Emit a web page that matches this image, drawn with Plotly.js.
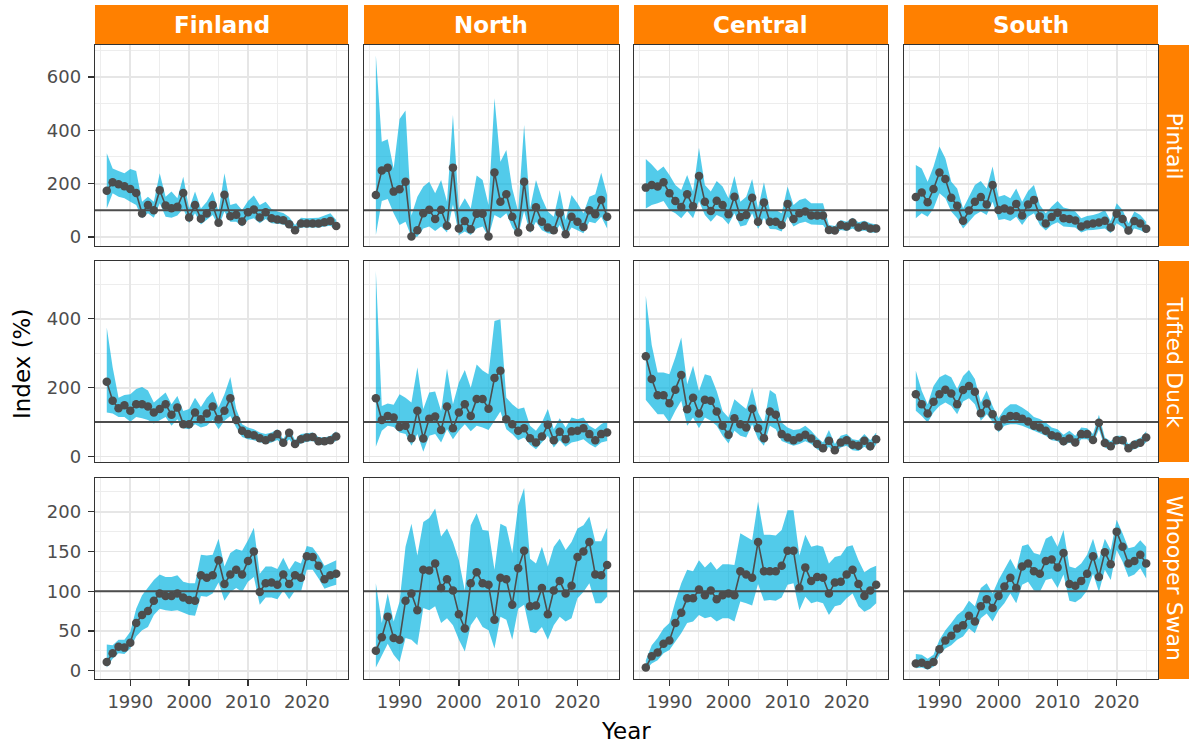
<!DOCTYPE html>
<html><head><meta charset="utf-8">
<script src="https://cdn.plot.ly/plotly-3.0.1.min.js"></script>
<style>html,body{margin:0;padding:0;background:#fff}#chart{width:1190px;height:744px}</style>
</head><body><div id="chart"></div>
<script>
const years = [1986,1987,1988,1989,1990,1991,1992,1993,1994,1995,1996,1997,1998,1999,2000,2001,2002,2003,2004,2005,2006,2007,2008,2009,2010,2011,2012,2013,2014,2015,2016,2017,2018,2019,2020,2021,2022,2023,2024,2025];
const regions = ['Finland','North','Central','South'];
const species = ['Pintail','Tufted Duck','Whooper Swan'];
const xTicks = [1990,2000,2010,2020];
const xMinor = [1985,1995,2005,2015,2025];
const yTicksPintail = [0,200,400,600];
const yMinorPintail = [100,300,500,700];
const yTicksTufted = [0,200,400];
const yMinorTufted = [100,300,500];
const yTicksSwan = [0,50,100,150,200];
const yMinorSwan = [25,75,125,175,225];
const baseline = 100;

// Pintail
const pintailFinland   = [173,205,198,190,180,165,88,120,100,175,118,108,113,165,73,120,68,88,120,53,158,78,83,58,93,103,73,93,70,65,63,48,25,50,50,50,50,55,60,41];
const pintailFinlandLo = [107,164,151,145,132,120,70,89,72,126,76,72,80,107,51,89,47,64,82,39,95,57,57,39,64,70,51,67,51,49,47,35,17,35,35,35,35,39,42,26];
const pintailFinlandHi = [314,257,247,239,255,247,132,151,132,239,151,170,145,226,107,170,107,132,170,95,239,120,126,101,135,155,120,132,105,95,90,75,45,72,70,70,72,80,89,64];
const pintailNorth   = [157,249,260,170,179,207,2,25,89,102,67,102,42,260,32,60,29,87,87,2,242,132,160,76,17,207,35,111,57,35,25,90,10,76,57,37,100,85,139,76];
const pintailNorthLo = [7,135,142,89,45,57,0,1,32,39,22,39,17,122,7,20,7,32,39,0,82,70,89,35,5,97,14,57,25,14,10,45,1,35,25,14,57,51,76,32];
const pintailNorthHi = [682,357,366,257,442,474,80,151,189,207,164,214,132,457,107,145,107,230,214,120,520,282,326,182,95,420,107,214,145,95,76,176,64,157,126,89,151,160,241,157];
const pintailCentral   = [185,195,189,205,164,135,112,160,115,229,132,97,136,120,85,151,75,82,147,57,129,57,57,45,124,67,89,95,80,80,80,26,24,45,39,54,35,42,32,32];
const pintailCentralLo = [107,120,126,135,101,89,70,97,70,135,82,57,82,72,47,89,39,45,89,30,72,30,29,20,76,39,51,57,47,47,45,14,11,26,22,32,20,24,17,16];
const pintailCentralHi = [292,272,247,264,232,195,176,232,170,335,195,170,210,189,145,229,132,151,217,107,205,101,101,89,189,120,139,145,126,126,126,45,41,64,57,72,55,61,51,47];
const pintailSouth   = [150,167,130,180,242,217,147,117,61,99,132,150,122,195,101,107,99,124,80,122,139,77,50,75,91,70,67,62,39,47,50,54,61,35,87,67,24,60,50,31];
const pintailSouthLo = [70,89,76,107,164,145,95,70,32,57,82,95,82,132,64,67,60,76,45,76,89,45,24,45,55,39,37,35,17,25,26,29,32,14,51,37,7,32,25,14];
const pintailSouthHi = [270,257,207,264,339,295,207,182,107,151,195,210,182,264,151,157,145,182,132,172,195,120,89,114,135,110,105,95,70,79,82,89,101,60,126,101,51,95,82,57];

// Tufted Duck
const tuftedFinland   = [217,162,140,149,133,152,152,145,128,138,152,121,142,94,94,128,108,125,145,108,133,169,106,75,65,62,53,47,55,65,40,69,36,50,55,57,44,44,47,58];
const tuftedFinlandLo = [128,125,115,115,101,115,111,106,96,106,115,89,108,82,79,94,84,89,106,79,104,118,84,57,50,47,41,36,41,48,31,50,26,38,43,45,34,34,38,45];
const tuftedFinlandHi = [375,259,171,179,181,196,202,192,157,171,186,152,176,132,138,171,144,171,189,142,181,231,138,94,84,79,70,65,70,79,50,82,47,65,68,70,57,55,60,73];
const tuftedNorth   = [169,106,118,113,86,89,53,133,52,110,116,77,145,82,128,152,118,167,167,139,228,249,108,94,75,82,53,41,58,92,47,72,50,73,75,82,65,47,65,70];
const tuftedNorthLo = [28,75,89,86,70,65,31,65,14,60,65,41,79,50,75,94,73,89,84,77,104,131,79,65,47,55,34,21,41,60,26,47,28,41,44,50,36,26,41,45];
const tuftedNorthHi = [539,147,154,150,181,171,157,259,138,186,189,132,256,152,215,251,200,267,250,239,394,399,171,152,138,142,89,75,99,138,79,111,84,113,108,113,89,79,94,104];
const tuftedCentral   = [291,225,178,178,155,194,237,137,171,125,165,162,131,89,63,111,94,84,139,82,53,131,121,65,55,47,55,63,52,36,24,46,18,41,47,34,31,46,30,50];
const tuftedCentralLo = [164,142,123,123,99,133,162,89,113,82,113,104,89,60,38,75,60,55,94,50,31,89,79,45,38,31,36,44,36,21,12,28,7,26,31,18,16,28,16,34];
const tuftedCentralHi = [467,324,244,244,239,288,346,210,264,190,239,234,190,132,113,166,152,138,200,128,96,193,181,99,84,77,79,89,75,55,41,77,36,60,65,50,47,65,47,70];
const tuftedSouth   = [181,152,125,159,181,194,183,152,193,205,188,126,154,123,87,108,118,117,110,102,89,84,75,62,58,44,52,41,65,65,48,98,39,30,47,47,24,34,40,55];
const tuftedSouthLo = [133,118,99,128,147,157,147,123,160,169,152,104,123,101,70,89,94,94,89,82,73,68,60,47,44,31,41,28,50,50,36,79,26,18,36,36,15,21,28,41];
const tuftedSouthHi = [249,191,152,205,230,239,230,196,234,251,225,157,192,147,111,138,152,152,142,131,115,109,99,84,79,63,75,60,84,82,65,121,55,44,60,60,36,47,53,73];

// Whooper Swan
const swanFinland   = [11,22,30,29,35,60,70,75,88,97,94,94,97,92,89,88,120,117,120,139,109,121,127,121,138,150,99,110,111,108,121,109,120,117,144,143,132,115,120,122];
const swanFinlandLo = [4,15,22,21,28,43,51,55,70,78,76,75,76,73,70,69,94,93,97,111,88,99,104,99,112,118,83,92,92,90,101,90,101,99,127,127,116,103,106,108];
const swanFinlandHi = [33,32,39,39,49,78,95,104,114,121,118,118,120,112,110,110,146,145,146,166,131,148,153,151,164,180,122,131,131,128,142,127,138,135,157,155,145,132,136,139];
const swanNorth   = [25,42,68,41,39,88,97,76,127,126,135,104,115,101,71,53,110,124,110,108,64,117,115,83,129,151,81,82,104,71,101,113,97,107,143,150,162,121,120,133];
const swanNorthLo = [4,18,34,20,11,41,39,32,79,76,81,60,66,57,39,24,57,68,55,51,28,68,64,39,78,83,49,47,55,39,57,68,62,66,91,99,110,85,85,93];
const swanNorthHi = [110,60,97,62,87,156,185,145,187,192,204,169,179,162,139,101,183,198,177,176,127,185,181,148,208,230,141,135,156,131,156,166,152,162,179,183,194,163,163,180];
const swanCentral   = [4,18,23,34,38,60,73,91,91,102,95,101,90,95,97,95,125,121,117,162,125,125,125,132,151,151,104,130,113,118,117,97,111,112,121,127,109,94,101,108];
const swanCentralLo = [1,9,13,22,26,36,47,60,62,70,66,68,62,66,66,62,87,85,82,109,88,89,88,92,108,110,76,93,85,87,85,70,81,83,91,97,81,74,78,85];
const swanCentralHi = [13,32,41,53,60,87,110,127,125,139,130,137,127,134,134,133,173,168,164,213,171,171,170,177,202,202,145,171,156,158,156,135,143,145,156,158,139,124,129,132];
const swanSouth   = [9,10,7,11,27,38,44,53,57,69,62,81,90,79,94,106,117,104,131,135,125,122,138,140,130,148,109,107,113,122,144,118,149,134,175,156,135,138,146,135];
const swanSouthLo = [3,4,1,5,20,28,32,39,43,53,47,66,72,62,76,85,97,85,108,112,101,99,114,116,104,121,88,86,91,101,122,99,127,114,152,137,118,121,129,116];
const swanSouthHi = [21,20,15,20,39,51,60,70,76,88,81,104,110,97,114,127,141,127,157,159,148,146,166,170,156,177,131,129,135,146,166,140,166,152,190,173,154,156,164,156];

const panels = [
  [[pintailFinland,pintailFinlandLo,pintailFinlandHi],[pintailNorth,pintailNorthLo,pintailNorthHi],[pintailCentral,pintailCentralLo,pintailCentralHi],[pintailSouth,pintailSouthLo,pintailSouthHi]],
  [[tuftedFinland,tuftedFinlandLo,tuftedFinlandHi],[tuftedNorth,tuftedNorthLo,tuftedNorthHi],[tuftedCentral,tuftedCentralLo,tuftedCentralHi],[tuftedSouth,tuftedSouthLo,tuftedSouthHi]],
  [[swanFinland,swanFinlandLo,swanFinlandHi],[swanNorth,swanNorthLo,swanNorthHi],[swanCentral,swanCentralLo,swanCentralHi],[swanSouth,swanSouthLo,swanSouthHi]]
];
const yTickSets = [yTicksPintail, yTicksTufted, yTicksSwan];
const yMinorSets = [yMinorPintail, yMinorTufted, yMinorSwan];

const W = 1190, H = 744;
const colPx = [[95,348],[364,619],[634,888],[904,1158]];
const rowPx = [[45,246],[261,462],[478,679]];
const yRanges = [[-34,720],[-16,568],[-10.5,242.5]];
const xRange = [1984,2027];
const FONT = 'DejaVu Sans, Arial, sans-serif';
const bandColor = 'rgba(0,178,224,0.68)';
const lineColor = '#4D4D4D';
const stripColor = '#FF8000';

const traces = [];
const layout = {
  width: W, height: H, margin: {l:0,r:0,t:0,b:0},
  paper_bgcolor: '#fff', plot_bgcolor: '#fff', showlegend: false,
  font: {family: FONT, color: '#000'},
  shapes: [], annotations: []
};

for (let r = 0; r < 3; r++) {
  for (let c = 0; c < 4; c++) {
    const n = r*4 + c + 1;
    const sfx = n === 1 ? '' : String(n);
    const xa = 'x' + sfx, ya = 'y' + sfx;
    const [mid, lo, hi] = panels[r][c];
    traces.push({x: years, y: lo, xaxis: xa, yaxis: ya, type: 'scatter', mode: 'lines',
      line: {width: 0, color: 'rgba(0,0,0,0)'}, hoverinfo: 'skip'});
    traces.push({x: years, y: hi, xaxis: xa, yaxis: ya, type: 'scatter', mode: 'lines',
      fill: 'tonexty', fillcolor: bandColor, line: {width: 0, color: 'rgba(0,0,0,0)'}, hoverinfo: 'skip'});
    traces.push({x: years, y: mid, xaxis: xa, yaxis: ya, type: 'scatter', mode: 'lines+markers',
      line: {width: 1.6, color: lineColor}, marker: {size: 8.5, color: lineColor}});

    const bottom = r === 2, left = c === 0;
    layout['xaxis' + sfx] = {
      domain: [colPx[c][0]/W, colPx[c][1]/W], range: xRange, anchor: ya,
      tickvals: xTicks, showticklabels: bottom, ticks: bottom ? 'outside' : '',
      ticklen: 6, tickwidth: 1.3, tickcolor: '#333',
      tickfont: {family: FONT, size: 18, color: '#4D4D4D'},
      showgrid: true, gridcolor: '#E6E6E6', gridwidth: 1.8,
      minor: {tickvals: xMinor, showgrid: true, gridcolor: '#EDEDED', gridwidth: 1, ticks: ''},
      showline: true, mirror: true, linecolor: '#333', linewidth: 1.2, zeroline: false
    };
    layout['yaxis' + sfx] = {
      domain: [1 - rowPx[r][1]/H, 1 - rowPx[r][0]/H], range: yRanges[r], anchor: xa,
      tickvals: yTickSets[r], showticklabels: left, ticks: left ? 'outside' : '',
      ticklen: 6, tickwidth: 1.3, tickcolor: '#333', ticklabelstandoff: 3,
      tickfont: {family: FONT, size: 18, color: '#4D4D4D'},
      showgrid: true, gridcolor: '#E6E6E6', gridwidth: 1.8,
      minor: {tickvals: yMinorSets[r], showgrid: true, gridcolor: '#EDEDED', gridwidth: 1, ticks: ''},
      showline: true, mirror: true, linecolor: '#333', linewidth: 1.2, zeroline: false
    };
    layout.shapes.push({type: 'line', xref: xa + ' domain', yref: ya, x0: 0, x1: 1,
      y0: baseline, y1: baseline, line: {color: lineColor, width: 2}, layer: 'above'});
  }
}

// top strips
for (let c = 0; c < 4; c++) {
  layout.shapes.push({type: 'rect', xref: 'paper', yref: 'paper',
    x0: colPx[c][0]/W, x1: colPx[c][1]/W, y0: 1 - 45/H, y1: 1 - 5/H,
    fillcolor: stripColor, line: {width: 0}, layer: 'below'});
  layout.annotations.push({xref: 'paper', yref: 'paper',
    x: (colPx[c][0] + colPx[c][1]) / 2 / W, y: 1 - 25/H, xanchor: 'center', yanchor: 'middle',
    text: regions[c], showarrow: false,
    font: {family: FONT, size: 23, color: '#fff', weight: 700}});
}
// right strips
for (let r = 0; r < 3; r++) {
  layout.shapes.push({type: 'rect', xref: 'paper', yref: 'paper',
    x0: 1159/W, x1: 1189/W, y0: 1 - rowPx[r][1]/H, y1: 1 - rowPx[r][0]/H,
    fillcolor: stripColor, line: {width: 0}, layer: 'below'});
  layout.annotations.push({xref: 'paper', yref: 'paper',
    x: 1174/W, y: 1 - (rowPx[r][0] + rowPx[r][1]) / 2 / H, xanchor: 'center', yanchor: 'middle',
    text: species[r], showarrow: false, textangle: 90,
    font: {family: FONT, size: 22, color: '#fff'}});
}
// axis titles
layout.annotations.push({xref: 'paper', yref: 'paper', x: 626/W, y: 1 - 731/H,
  xanchor: 'center', yanchor: 'middle', text: 'Year', showarrow: false,
  font: {family: FONT, size: 23, color: '#000'}});
layout.annotations.push({xref: 'paper', yref: 'paper', x: 22/W, y: 1 - 364/H,
  xanchor: 'center', yanchor: 'middle', text: 'Index (%)', showarrow: false, textangle: -90,
  font: {family: FONT, size: 23, color: '#000'}});

Plotly.newPlot('chart', traces, layout, {staticPlot: true, displayModeBar: false});
</script>
</body></html>
